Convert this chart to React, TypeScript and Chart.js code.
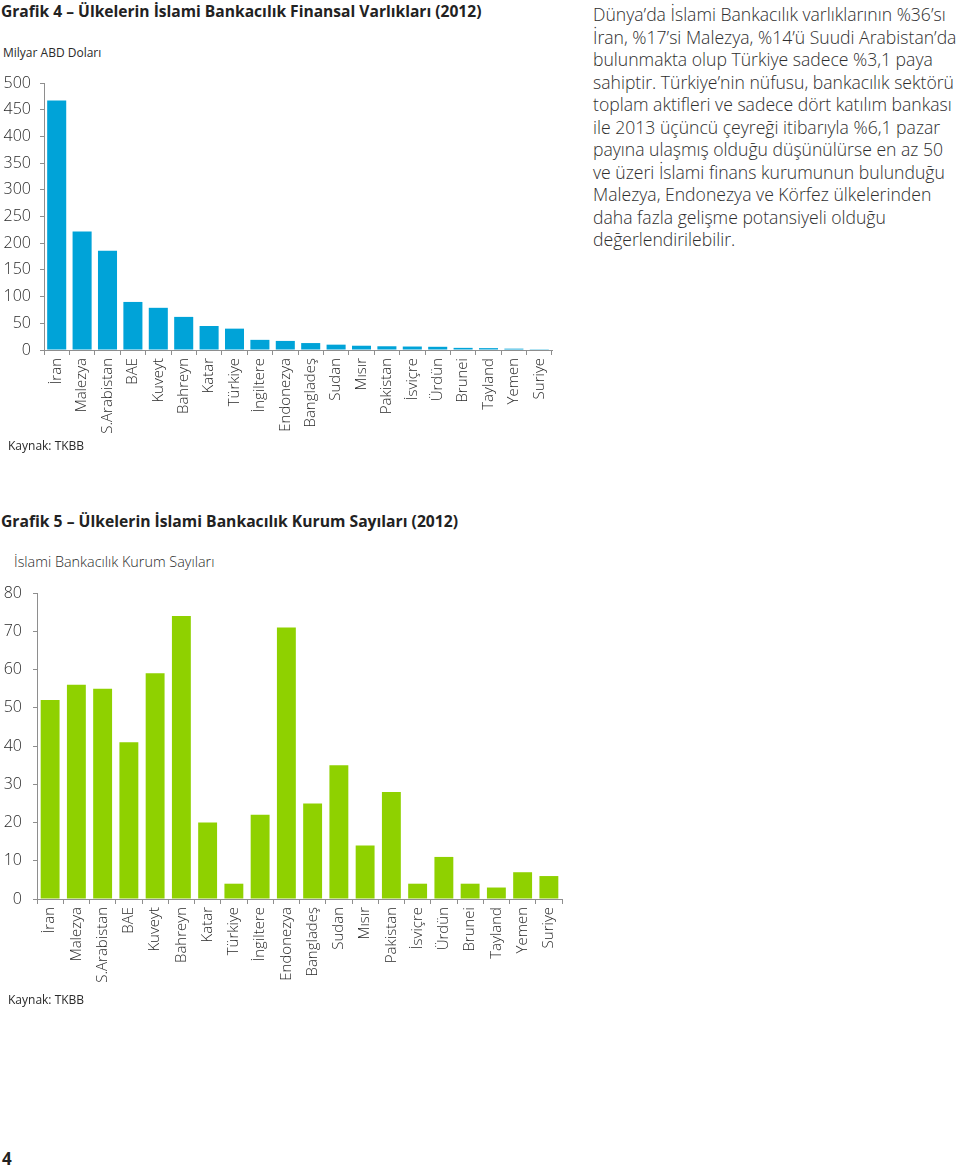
import React, { useEffect, useRef } from "react";
import { Chart, registerables } from "chart.js";

Chart.register(...registerables);

const countries = [
  "İran", "Malezya", "S.Arabistan", "BAE", "Kuveyt", "Bahreyn", "Katar", "Türkiye",
  "İngiltere", "Endonezya", "Bangladeş", "Sudan", "Mısır", "Pakistan", "İsviçre",
  "Ürdün", "Brunei", "Tayland", "Yemen", "Suriye",
];

const assets2012 = [467, 222, 186, 90, 79, 62, 45, 40, 19, 17, 13, 10, 8, 7, 6.5, 6, 4, 3.5, 2.5, 1.5];
const institutions2012 = [52, 56, 55, 41, 59, 74, 20, 4, 22, 71, 25, 35, 14, 28, 4, 11, 4, 3, 7, 6];

const assetTicks = { min: 0, max: 500, step: 50 };
const instTicks = { min: 0, max: 80, step: 10 };

const paragraphLines = [
  "Dünya’da İslami Bankacılık varlıklarının %36’sı",
  "İran, %17’si Malezya, %14’ü Suudi Arabistan’da",
  "bulunmakta olup Türkiye sadece %3,1 paya",
  "sahiptir. Türkiye’nin nüfusu, bankacılık sektörü",
  "toplam aktifleri ve sadece dört katılım bankası",
  "ile 2013 üçüncü çeyreği itibarıyla %6,1 pazar",
  "payına ulaşmış olduğu düşünülürse en az 50",
  "ve üzeri İslami finans kurumunun bulunduğu",
  "Malezya, Endonezya ve Körfez ülkelerinden",
  "daha fazla gelişme potansiyeli olduğu",
  "değerlendirilebilir.",
];

const FONT = "'Open Sans', 'DejaVu Sans', sans-serif";
const TEXT = "#2a2a2a";
const AXIS = "#8e8e8e";

function BarChart(props: {
  values: number[];
  color: string;
  ticks: { min: number; max: number; step: number };
  width: number;
  height: number;
  axisWidth: number;
  xAxisHeight: number;
  padTop: number;
  padRight: number;
  yPad: number;
  barPct: number;
}) {
  const ref = useRef<HTMLCanvasElement>(null);
  useEffect(() => {
    if (!ref.current) return;
    const chart = new Chart(ref.current, {
      type: "bar",
      data: {
        labels: countries,
        datasets: [
          {
            data: props.values,
            backgroundColor: props.color,
            borderWidth: 0,
            barPercentage: props.barPct,
            categoryPercentage: 1,
          },
        ],
      },
      options: {
        responsive: false,
        animation: false,
        layout: { padding: { top: props.padTop, right: props.padRight, left: 0, bottom: 0 } },
        plugins: { legend: { display: false }, tooltip: { enabled: false }, title: { display: false } },
        scales: {
          x: {
            offset: true,
            grid: {
              offset: true,
              drawOnChartArea: false,
              drawTicks: true,
              tickLength: 5,
              color: AXIS,
            },
            border: { display: true, color: AXIS, width: 1 },
            ticks: {
              autoSkip: false,
              minRotation: 90,
              maxRotation: 90,
              padding: 3,
              color: TEXT,
              font: { family: FONT, size: 15, weight: "300" as any },
            },
            afterFit: (s: any) => {
              s.height = props.xAxisHeight;
              s.paddingLeft = 0;
              s.paddingRight = 0;
            },
          },
          y: {
            min: props.ticks.min,
            max: props.ticks.max,
            grid: {
              drawOnChartArea: false,
              drawTicks: true,
              tickLength: 4,
              color: AXIS,
            },
            border: { display: true, color: AXIS, width: 1 },
            ticks: {
              stepSize: props.ticks.step,
              padding: props.yPad,
              color: TEXT,
              font: { family: FONT, size: 16, weight: "300" as any },
            },
            afterFit: (s: any) => {
              s.width = props.axisWidth;
              s.paddingTop = 0;
              s.paddingBottom = 0;
            },
          },
        },
      },
    });
    return () => chart.destroy();
  }, []);
  return <canvas ref={ref} width={props.width} height={props.height} style={{ display: "block" }} />;
}

export default function App() {
  const abs = (left: number, top: number, extra: React.CSSProperties = {}): React.CSSProperties => ({
    position: "absolute",
    left,
    top,
    whiteSpace: "nowrap",
    ...extra,
  });
  return (
    <div
      style={{
        position: "absolute",
        left: 0,
        top: 0,
        width: 960,
        height: 1169,
        background: "#ffffff",
        fontFamily: FONT,
        color: TEXT,
        overflow: "hidden",
      }}
    >
      <div style={abs(1, 1, { fontSize: 15.6, fontWeight: 700, color: "#222", lineHeight: "20px" })}>
        Grafik 4 – Ülkelerin İslami Bankacılık Finansal Varlıkları (2012)
      </div>
      <div style={abs(3, 45, { fontSize: 12, lineHeight: "16px", fontWeight: 400 })}>Milyar ABD Doları</div>

      <div style={abs(0, 70)}>
        <BarChart
          values={assets2012}
          color="#00a3d8"
          ticks={assetTicks}
          width={570}
          height={380}
          axisWidth={44}
          xAxisHeight={100}
          padTop={13}
          padRight={18}
          yPad={9}
          barPct={0.75}
        />
      </div>
      <div style={abs(8, 438, { fontSize: 12, lineHeight: "16px" })}>Kaynak: TKBB</div>

      <div style={abs(593, 3, { fontSize: 17.6, lineHeight: "22.5px", fontWeight: 300, color: "#2e2e2e" })}>
        {paragraphLines.map((l, i) => (
          <div key={i}>{l}</div>
        ))}
      </div>

      <div style={abs(1, 511, { fontSize: 15.7, fontWeight: 700, color: "#222", lineHeight: "20px" })}>
        Grafik 5 – Ülkelerin İslami Bankacılık Kurum Sayıları (2012)
      </div>
      <div style={abs(14, 552, { fontSize: 14.4, lineHeight: "20px", fontWeight: 300 })}>
        İslami Bankacılık Kurum Sayıları
      </div>

      <div style={abs(0, 580)}>
        <BarChart
          values={institutions2012}
          color="#8fd100"
          ticks={instTicks}
          width={580}
          height={420}
          axisWidth={37}
          xAxisHeight={101}
          padTop={13}
          padRight={18}
          yPad={11}
          barPct={0.72}
        />
      </div>
      <div style={abs(8, 992, { fontSize: 12, lineHeight: "16px" })}>Kaynak: TKBB</div>

      <div style={abs(2, 1148, { fontSize: 17, fontWeight: 700, color: "#222", lineHeight: "22px" })}>4</div>
    </div>
  );
}
